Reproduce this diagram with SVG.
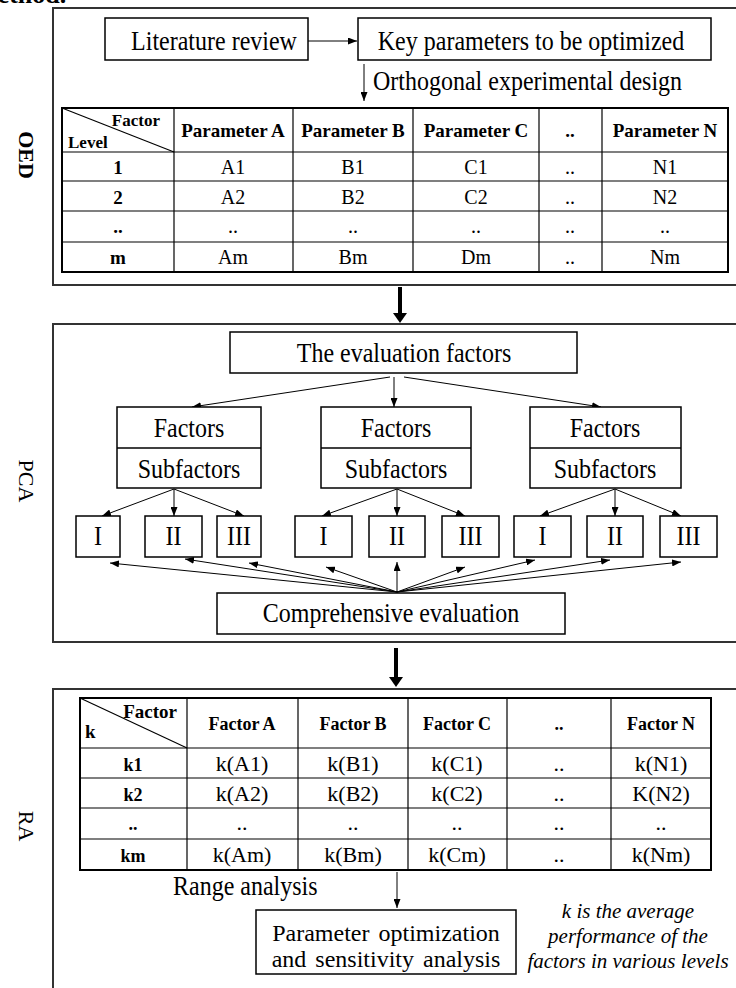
<svg xmlns="http://www.w3.org/2000/svg" width="736" height="988" viewBox="0 0 736 988">
<defs>
<marker id="ah" markerUnits="userSpaceOnUse" markerWidth="9" markerHeight="7" refX="9" refY="3.5" orient="auto"><path d="M0,0 L9,3.5 L0,7 z" fill="#000"/></marker>
<style>
.frame{fill:none;stroke:#333;stroke-width:2}
.box{fill:#fff;stroke:#000;stroke-width:1.5}
.tbl{fill:none;stroke:#000;stroke-width:1.2}
.tblo{fill:none;stroke:#000;stroke-width:2}
.c{stroke:#000;stroke-width:1;fill:none;marker-end:url(#ah)}
.thick{stroke:#000;stroke-width:4;fill:none}
text{font-family:"Liberation Serif","Times New Roman",serif;fill:#000}
.t{font-size:24px;text-anchor:middle}
.tl{font-size:24px}
.h{font-size:19px;font-weight:bold;text-anchor:middle}
.d{font-size:20px;text-anchor:middle}
.hr{font-size:18px;font-weight:bold;text-anchor:middle}
.dr{font-size:22px;text-anchor:middle}
.lab{font-size:22px;text-anchor:middle}
.it{font-size:21px;font-style:italic;text-anchor:middle}
</style>
</defs>

<text x="-24" y="3" style="font-size:26px;font-weight:bold">method.</text>

<g id="frames">
<rect id="oed-frame" class="frame" x="53" y="8" width="700" height="277"/>
<rect id="pca-frame" class="frame" x="53" y="324" width="700" height="318"/>
<rect id="ra-frame" class="frame" x="53" y="689" width="700" height="330"/>
</g>

<g id="labels">
<text class="lab" transform="translate(19,155) rotate(90)" font-weight="bold">OED</text>
<text class="lab" transform="translate(19,481) rotate(90)">PCA</text>
<text class="lab" transform="translate(19,826) rotate(90)">RA</text>
</g>

<g id="connectors">
<line class="c" x1="308" y1="41" x2="357" y2="41"/>
<line class="c" x1="364" y1="64" x2="364" y2="101"/>
<line class="thick" x1="400" y1="287" x2="400" y2="314"/>
<polygon points="393,313 407,313 400,323" fill="#000"/>
<line class="c" x1="390" y1="377" x2="192" y2="407"/>
<line class="c" x1="394" y1="377" x2="394" y2="407"/>
<line class="c" x1="404" y1="377" x2="601" y2="407"/>
<line class="c" x1="174" y1="489" x2="102" y2="516"/>
<line class="c" x1="174" y1="489" x2="174" y2="516"/>
<line class="c" x1="174" y1="489" x2="244" y2="516"/>
<line class="c" x1="397" y1="489" x2="322" y2="516"/>
<line class="c" x1="397" y1="489" x2="397" y2="516"/>
<line class="c" x1="397" y1="489" x2="465" y2="516"/>
<line class="c" x1="615" y1="489" x2="540" y2="516"/>
<line class="c" x1="615" y1="489" x2="615" y2="516"/>
<line class="c" x1="615" y1="489" x2="681" y2="516"/>
<line class="c" x1="397" y1="592" x2="110" y2="563"/>
<line class="c" x1="397" y1="592" x2="185" y2="559"/>
<line class="c" x1="397" y1="592" x2="249" y2="563"/>
<line class="c" x1="397" y1="592" x2="326" y2="567"/>
<line class="c" x1="397" y1="592" x2="397" y2="562"/>
<line class="c" x1="397" y1="592" x2="465" y2="567"/>
<line class="c" x1="397" y1="592" x2="535" y2="560"/>
<line class="c" x1="397" y1="592" x2="610" y2="560"/>
<line class="c" x1="397" y1="592" x2="681" y2="562"/>
<line class="thick" x1="396" y1="648" x2="396" y2="678"/>
<polygon points="389,677 403,677 396,687" fill="#000"/>
<line class="c" x1="397" y1="872" x2="397" y2="908"/>
</g>

<g id="lit-review">
<rect class="box" x="105" y="18" width="203" height="42"/>
<text class="t" transform="translate(214,50) scale(1,1.12)">Literature review</text>
</g>
<g id="key-params">
<rect class="box" x="358" y="18" width="353" height="42"/>
<text class="t" transform="translate(531,50) scale(1,1.12)">Key parameters to be optimized</text>
</g>
<text class="tl" transform="translate(373,90) scale(1,1.12)">Orthogonal experimental design</text>

<g id="oed-table">
<rect class="tblo" x="62" y="108" width="666" height="164"/>
<g class="tbl">
<line x1="62" y1="152" x2="728" y2="152"/>
<line x1="62" y1="181" x2="728" y2="181"/>
<line x1="62" y1="211" x2="728" y2="211"/>
<line x1="62" y1="242" x2="728" y2="242"/>
<line x1="174" y1="108" x2="174" y2="272"/>
<line x1="293" y1="108" x2="293" y2="272"/>
<line x1="413" y1="108" x2="413" y2="272"/>
<line x1="539" y1="108" x2="539" y2="272"/>
<line x1="602" y1="108" x2="602" y2="272"/>
<line x1="62" y1="108" x2="174" y2="152"/>
</g>
<text x="160" y="126" style="font-size:17px;font-weight:bold;text-anchor:end">Factor</text>
<text x="68" y="148" style="font-size:17px;font-weight:bold">Level</text>
<text class="h" x="233" y="137">Parameter A</text>
<text class="h" x="353" y="137">Parameter B</text>
<text class="h" x="476" y="137">Parameter C</text>
<text class="h" x="570" y="137">..</text>
<text class="h" x="665" y="137">Parameter N</text>
<text class="h" x="118" y="174">1</text>
<text class="d" x="233" y="174">A1</text>
<text class="d" x="353" y="174">B1</text>
<text class="d" x="476" y="174">C1</text>
<text class="d" x="570" y="174">..</text>
<text class="d" x="665" y="174">N1</text>
<text class="h" x="118" y="204">2</text>
<text class="d" x="233" y="204">A2</text>
<text class="d" x="353" y="204">B2</text>
<text class="d" x="476" y="204">C2</text>
<text class="d" x="570" y="204">..</text>
<text class="d" x="665" y="204">N2</text>
<text class="h" x="118" y="233">..</text>
<text class="d" x="233" y="233">..</text>
<text class="d" x="353" y="233">..</text>
<text class="d" x="476" y="233">..</text>
<text class="d" x="570" y="233">..</text>
<text class="d" x="665" y="233">..</text>
<text class="h" x="118" y="264">m</text>
<text class="d" x="233" y="264">Am</text>
<text class="d" x="353" y="264">Bm</text>
<text class="d" x="476" y="264">Dm</text>
<text class="d" x="570" y="264">..</text>
<text class="d" x="665" y="264">Nm</text>
</g>

<g id="eval-factors">
<rect class="box" x="230" y="332" width="347" height="41"/>
<text class="t" transform="translate(404,362) scale(1,1.12)">The evaluation  factors</text>
</g>

<g id="factors-1">
<rect class="box" x="117" y="407" width="144" height="81"/>
<line x1="117" y1="448" x2="261" y2="448" stroke="#000" stroke-width="1.5"/>
<text class="t" transform="translate(189,437) scale(1,1.12)">Factors</text>
<text class="t" transform="translate(189,478) scale(1,1.12)">Subfactors</text>
</g>
<g id="factors-2">
<rect class="box" x="321" y="407" width="150" height="81"/>
<line x1="321" y1="448" x2="471" y2="448" stroke="#000" stroke-width="1.5"/>
<text class="t" transform="translate(396,437) scale(1,1.12)">Factors</text>
<text class="t" transform="translate(396,478) scale(1,1.12)">Subfactors</text>
</g>
<g id="factors-3">
<rect class="box" x="530" y="407" width="151" height="81"/>
<line x1="530" y1="448" x2="681" y2="448" stroke="#000" stroke-width="1.5"/>
<text class="t" transform="translate(605,437) scale(1,1.12)">Factors</text>
<text class="t" transform="translate(605,478) scale(1,1.12)">Subfactors</text>
</g>

<g id="sub-1-I"><rect class="box" x="76" y="516" width="44" height="41"/><text class="t" transform="translate(98,545) scale(1,1.12)">I</text></g>
<g id="sub-1-II"><rect class="box" x="145" y="516" width="57" height="41"/><text class="t" transform="translate(173.5,545) scale(1,1.12)">II</text></g>
<g id="sub-1-III"><rect class="box" x="217" y="516" width="44" height="41"/><text class="t" transform="translate(239,545) scale(1,1.12)">III</text></g>
<g id="sub-2-I"><rect class="box" x="295" y="516" width="57" height="41"/><text class="t" transform="translate(323.5,545) scale(1,1.12)">I</text></g>
<g id="sub-2-II"><rect class="box" x="369" y="516" width="56" height="41"/><text class="t" transform="translate(397,545) scale(1,1.12)">II</text></g>
<g id="sub-2-III"><rect class="box" x="442" y="516" width="57" height="41"/><text class="t" transform="translate(470.5,545) scale(1,1.12)">III</text></g>
<g id="sub-3-I"><rect class="box" x="514" y="516" width="57" height="41"/><text class="t" transform="translate(542.5,545) scale(1,1.12)">I</text></g>
<g id="sub-3-II"><rect class="box" x="587" y="516" width="56" height="41"/><text class="t" transform="translate(615,545) scale(1,1.12)">II</text></g>
<g id="sub-3-III"><rect class="box" x="660" y="516" width="57" height="41"/><text class="t" transform="translate(688.5,545) scale(1,1.12)">III</text></g>

<g id="comprehensive">
<rect class="box" x="217" y="593" width="348" height="41"/>
<text class="t" transform="translate(391,622) scale(1,1.12)">Comprehensive evaluation</text>
</g>

<g id="ra-table">
<rect class="tblo" x="80" y="698" width="631" height="172"/>
<g class="tbl">
<line x1="80" y1="748" x2="711" y2="748"/>
<line x1="80" y1="778" x2="711" y2="778"/>
<line x1="80" y1="808" x2="711" y2="808"/>
<line x1="80" y1="839" x2="711" y2="839"/>
<line x1="187" y1="698" x2="187" y2="870"/>
<line x1="298" y1="698" x2="298" y2="870"/>
<line x1="408" y1="698" x2="408" y2="870"/>
<line x1="507" y1="698" x2="507" y2="870"/>
<line x1="611" y1="698" x2="611" y2="870"/>
<line x1="80" y1="698" x2="187" y2="748"/>
</g>
<text x="177" y="718" style="font-size:19px;font-weight:bold;text-anchor:end">Factor</text>
<text x="85" y="738" style="font-size:19px;font-weight:bold">k</text>
<text class="hr" x="242" y="730">Factor A</text>
<text class="hr" x="353" y="730">Factor B</text>
<text class="hr" x="457" y="730">Factor C</text>
<text class="hr" x="559" y="730">..</text>
<text class="hr" x="661" y="730">Factor N</text>
<text class="hr" x="133" y="771">k1</text>
<text class="dr" x="242" y="771">k(A1)</text>
<text class="dr" x="353" y="771">k(B1)</text>
<text class="dr" x="457" y="771">k(C1)</text>
<text class="dr" x="559" y="771">..</text>
<text class="dr" x="661" y="771">k(N1)</text>
<text class="hr" x="133" y="801">k2</text>
<text class="dr" x="242" y="801">k(A2)</text>
<text class="dr" x="353" y="801">k(B2)</text>
<text class="dr" x="457" y="801">k(C2)</text>
<text class="dr" x="559" y="801">..</text>
<text class="dr" x="661" y="801">K(N2)</text>
<text class="hr" x="133" y="830">..</text>
<text class="dr" x="242" y="830">..</text>
<text class="dr" x="353" y="830">..</text>
<text class="dr" x="457" y="830">..</text>
<text class="dr" x="559" y="830">..</text>
<text class="dr" x="661" y="830">..</text>
<text class="hr" x="133" y="862">km</text>
<text class="dr" x="242" y="862">k(Am)</text>
<text class="dr" x="353" y="862">k(Bm)</text>
<text class="dr" x="457" y="862">k(Cm)</text>
<text class="dr" x="559" y="862">..</text>
<text class="dr" x="661" y="862">k(Nm)</text>
</g>

<text class="tl" transform="translate(173,895) scale(1,1.12)">Range analysis</text>

<g id="param-opt">
<rect class="box" x="256" y="910" width="260" height="64"/>
<text class="t" x="386" y="941" style="word-spacing:3px">Parameter optimization</text>
<text class="t" x="386" y="967" style="word-spacing:3px">and sensitivity analysis</text>
</g>

<g id="note">
<text class="it" x="628" y="918">k is the average</text>
<text class="it" x="628" y="943">performance of the</text>
<text class="it" x="628" y="968">factors in various levels</text>
</g>
</svg>
